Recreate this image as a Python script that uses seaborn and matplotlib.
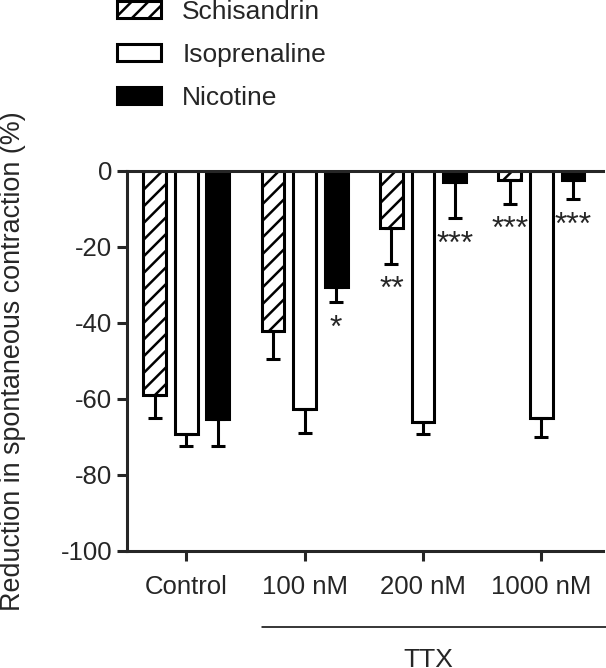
import matplotlib
matplotlib.use("Agg")
import matplotlib.pyplot as plt
import pandas as pd
import seaborn as sns

# Data (mean, lower SEM)
groups = ["Control", "100 nM", "200 nM", "1000 nM"]
compounds = ["Schisandrin", "Isoprenaline", "Nicotine"]
schisandrin = [-59.0, -42.0, -15.0, -2.5]
isoprenaline = [-69.3, -62.5, -66.0, -65.0]
nicotine = [-65.2, -30.6, -2.8, -2.5]
schisandrin_err = [6.0, 7.5, 9.5, 6.2]
isoprenaline_err = [3.0, 6.5, 3.2, 5.0]
nicotine_err = [7.2, 4.0, 9.7, 5.0]
schisandrin_sig = ["", "", "**", "***"]
isoprenaline_sig = ["", "", "", ""]
nicotine_sig = ["", "*", "***", "***"]

sns.set_style("ticks")
plt.rcParams['font.family'] = ['Liberation Sans', 'DejaVu Sans']
plt.rcParams['hatch.linewidth'] = 1.8
plt.rcParams['axes.unicode_minus'] = False

rows = []
for comp, vals in zip(compounds, [schisandrin, isoprenaline, nicotine]):
    for g, v in zip(groups, vals):
        rows.append({"group": g, "compound": comp, "value": v})
df = pd.DataFrame(rows)

fig = plt.figure(figsize=(6.06, 6.68), dpi=100)
ax = fig.add_axes([127 / 606, 1 - 551 / 668, 476 / 606, 380 / 668])

sns.barplot(data=df, x="group", y="value", hue="compound", order=groups, hue_order=compounds,
            palette={"Schisandrin": "white", "Isoprenaline": "white", "Nicotine": "black"},
            saturation=1, edgecolor="black", linewidth=2.2, gap=0.28, errorbar=None,
            legend=False, ax=ax)

for bar in ax.containers[0]:
    bar.set_hatch("//")

# one-sided error bars and significance stars
errs = [schisandrin_err, isoprenaline_err, nicotine_err]
sigs = [schisandrin_sig, isoprenaline_sig, nicotine_sig]
for cont, err, sig in zip(ax.containers, errs, sigs):
    xs = [b.get_x() + b.get_width() / 2 for b in cont]
    ys = [b.get_height() for b in cont]
    ax.errorbar(xs, ys, yerr=[err, [0] * len(err)], fmt="none", ecolor="black",
                elinewidth=2.2, capsize=5, capthick=2.2, zorder=1)
    for x, y, e, s in zip(xs, ys, err, sig):
        if s:
            ax.text(x, y - e - 9.0, s, ha="center", va="baseline", fontsize=23)

ax.set_ylim(-100, 0)
ax.set_yticks([0, -20, -40, -60, -80, -100])
ax.set_xlim(-0.5, 3.52)
ax.set_xlabel("")
ax.set_ylabel("Reduction in spontaneous contraction (%)", fontsize=19.4)
ax.yaxis.set_label_coords(-0.213, 0.5)
ax.tick_params(axis="both", labelsize=18.5, width=2.2, length=7)
ax.tick_params(axis="x", pad=10)
ax.tick_params(axis="y", pad=3.5)
sns.despine(ax=ax, top=False, right=True)
for side in ["left", "bottom", "top"]:
    ax.spines[side].set_linewidth(2.2)

# TTX bracket below the dose labels
ax.plot([0.284, 1.01], [-0.2, -0.2], transform=ax.transAxes, color="black",
        linewidth=1.1, clip_on=False)
ax.text(0.632, -0.305, "TTX", transform=ax.transAxes, ha="center", va="baseline", fontsize=19)

ax.legend(ax.containers, compounds, loc="upper left", bbox_to_anchor=(117 / 606, 1.0),
          bbox_transform=fig.transFigure, frameon=False, fontsize=19, borderpad=0,
          borderaxespad=0, handlelength=1.65, handleheight=0.6, handletextpad=0.82,
          labelspacing=0.72)

fig.savefig("out.png", dpi=100)
